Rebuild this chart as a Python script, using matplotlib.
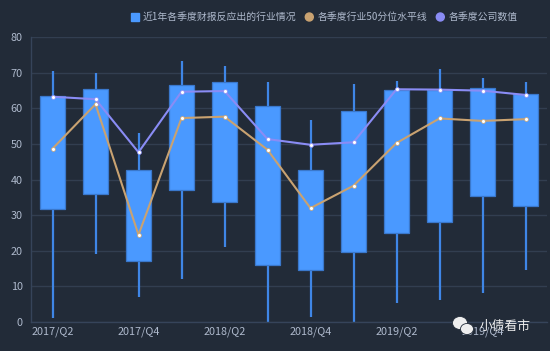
import matplotlib
matplotlib.use('Agg')
from matplotlib import pyplot as plt
from matplotlib.patches import Ellipse, Rectangle
from matplotlib.transforms import IdentityTransform

plt.rcParams['font.family'] = ['Noto Sans CJK SC', 'DejaVu Sans']

quarters = ['2017/Q2', '2017/Q3', '2017/Q4', '2018/Q1', '2018/Q2', '2018/Q3',
            '2018/Q4', '2019/Q1', '2019/Q2', '2019/Q3', '2019/Q4', '2020/Q1']
low = [1, 19, 7, 12, 21, 0, 1.5, 0, 5.3, 6.3, 8.2, 14.5]
q1 = [31.7, 36, 17.2, 37, 33.7, 16, 14.7, 19.6, 25, 28.2, 35.5, 32.5]
q3 = [63.5, 65.5, 42.7, 66.5, 67.5, 60.8, 42.8, 59.2, 65.2, 65.2, 65.8, 64]
high = [70.5, 70, 53, 73.2, 72, 67.3, 56.7, 67, 67.7, 71, 68.7, 67.5]
median = [48.7, 61.2, 24.5, 57.3, 57.7, 48.4, 32, 38.3, 50.3, 57.2, 56.5, 57]
company = [63.3, 62.6, 47.7, 64.7, 64.9, 51.4, 49.8, 50.5, 65.4, 65.3, 65, 63.8]
yticks = [0, 10, 20, 30, 40, 50, 60, 70, 80]

BG = '#222b38'
BLUE = '#4a99ff'
EDGE = '#3a78cc'
TAN = '#c9a271'
PURPLE = '#8a8cf5'
GRID = '#323e50'
TEXT = '#aeb9cc'

W, H = 550, 351
fig = plt.figure(figsize=(W / 100, H / 100), dpi=100, facecolor=BG)
# 坐标区按像素位置摆放
ax = fig.add_axes([31 / W, (H - 322) / H, 516 / W, 284.7 / H], facecolor=BG)

x = list(range(len(quarters)))
ax.vlines(x, low, high, color='#3f86e6', lw=1.6, zorder=2)
ax.bar(x, [b - a for a, b in zip(q1, q3)], bottom=q1, width=0.6,
       color=BLUE, edgecolor=EDGE, lw=0.9, zorder=3)
ax.plot(x, median, color=TAN, lw=1.5, marker='o', ms=2.8, mfc='white', mec=TAN, mew=0.5, zorder=4)
ax.plot(x, company, color=PURPLE, lw=1.5, marker='o', ms=2.8, mfc='white', mec=PURPLE, mew=0.5, zorder=5)

ax.set_xlim(-0.5, 11.5)
ax.set_ylim(0, 80)
ax.set_yticks(yticks)
ax.set_xticks(x[::2])
ax.set_xticklabels(quarters[::2])
ax.tick_params(length=0, colors=TEXT, labelsize=7.8)
ax.tick_params(axis='x', pad=3)
ax.tick_params(axis='y', pad=6)
ax.grid(axis='y', color=GRID, lw=1, zorder=0)
ax.set_axisbelow(True)
for side in ['top', 'right']:
    ax.spines[side].set_visible(False)
for side in ['left', 'bottom']:
    ax.spines[side].set_color('#36445a')
    ax.spines[side].set_linewidth(1)

# 图例
px = IdentityTransform()
def py(y):
    return H - y

fig.add_artist(Rectangle((131, py(21.3)), 8, 8, color=BLUE, transform=px))
fig.text(143 / W, py(16.7) / H, '近1年各季度财报反应出的行业情况', color=TEXT, fontsize=7.1, va='center')
fig.add_artist(Ellipse((309.3, py(17)), 8, 8, color=TAN, transform=px))
fig.text(318 / W, py(16.7) / H, '各季度行业50分位水平线', color=TEXT, fontsize=7.1, va='center')
fig.add_artist(Ellipse((440.3, py(17)), 8, 8, color=PURPLE, transform=px))
fig.text(449 / W, py(16.7) / H, '各季度公司数值', color=TEXT, fontsize=7.1, va='center')

# 水印
fig.text(480 / W, py(326) / H, '小债看市', color='#eeeeee', fontsize=9.2, va='center', zorder=10)
for cx, cy, w, h in [(460, 323, 15, 13), (467, 329, 13, 11)]:
    fig.add_artist(Ellipse((cx, py(cy)), w, h, fc='#eeeeee', ec=BG, lw=0.6, transform=px, zorder=10))

fig.savefig('out.png', dpi=100, facecolor=BG)
